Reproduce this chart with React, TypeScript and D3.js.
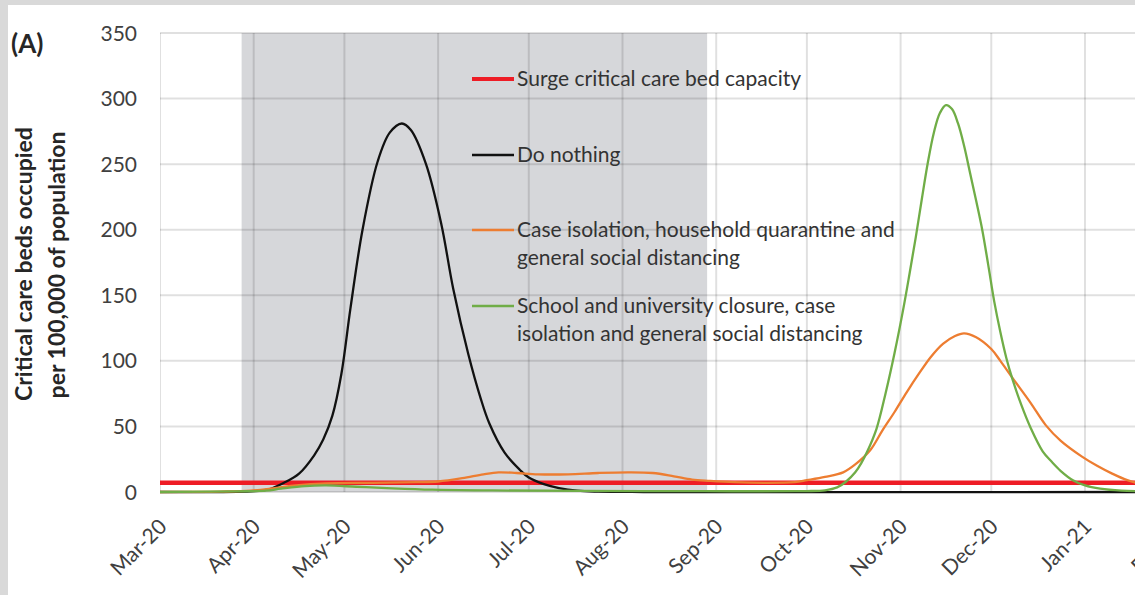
import * as d3 from "d3";

type Pt = [string, number];

// month gridlines / x tick labels
const MONTHS = [
  "2020-03-01", "2020-04-01", "2020-05-01", "2020-06-01", "2020-07-01", "2020-08-01",
  "2020-09-01", "2020-10-01", "2020-11-01", "2020-12-01", "2021-01-01", "2021-02-01",
];
const MONTH_LABELS = [
  "Mar-20", "Apr-20", "May-20", "Jun-20", "Jul-20", "Aug-20",
  "Sep-20", "Oct-20", "Nov-20", "Dec-20", "Jan-21", "Feb-21",
];
const Y_TICKS = [0, 50, 100, 150, 200, 250, 300, 350];

// grey band = suppression period
const SHADED = ["2020-03-28", "2020-08-29"];

const SURGE_CAPACITY = 7;

const DO_NOTHING: Pt[] = [
  ["2020-03-01", 0], ["2020-03-31", 0.5], ["2020-04-06", 2], ["2020-04-11", 7],
  ["2020-04-16", 14], ["2020-04-21", 28], ["2020-04-24", 40], ["2020-04-27", 58],
  ["2020-04-30", 90], ["2020-05-03", 140], ["2020-05-07", 200], ["2020-05-12", 252],
  ["2020-05-16", 274], ["2020-05-20", 281], ["2020-05-23", 276], ["2020-05-28", 250],
  ["2020-06-02", 205], ["2020-06-06", 155], ["2020-06-11", 105], ["2020-06-15", 72],
  ["2020-06-18", 52], ["2020-06-23", 30], ["2020-06-28", 17], ["2020-07-01", 11],
  ["2020-07-06", 6], ["2020-07-11", 3], ["2020-07-17", 1], ["2020-07-24", 0.3],
  ["2020-08-08", 0], ["2021-02-01", 0],
];

const CASE_ISOLATION: Pt[] = [
  ["2020-03-01", 0], ["2020-03-21", 0.3], ["2020-03-31", 1], ["2020-04-08", 3],
  ["2020-04-15", 5], ["2020-04-25", 6.5], ["2020-05-10", 7], ["2020-05-25", 7.5],
  ["2020-06-01", 8], ["2020-06-09", 10.5], ["2020-06-16", 13.5], ["2020-06-21", 15],
  ["2020-06-27", 14.5], ["2020-07-04", 13.5], ["2020-07-14", 13.5], ["2020-07-24", 14.5],
  ["2020-08-03", 15], ["2020-08-11", 14.5], ["2020-08-18", 12], ["2020-08-24", 9.5],
  ["2020-08-30", 8.5], ["2020-09-07", 7.5], ["2020-09-17", 7], ["2020-09-27", 7.5],
  ["2020-10-01", 9], ["2020-10-07", 11.5], ["2020-10-13", 15], ["2020-10-17", 21],
  ["2020-10-22", 32], ["2020-10-26", 47], ["2020-10-30", 61], ["2020-11-03", 76],
  ["2020-11-07", 90], ["2020-11-11", 103], ["2020-11-15", 113], ["2020-11-19", 119],
  ["2020-11-22", 121], ["2020-11-26", 118], ["2020-12-01", 109], ["2020-12-04", 100],
  ["2020-12-08", 87], ["2020-12-14", 68], ["2020-12-19", 51], ["2020-12-24", 39],
  ["2020-12-31", 27], ["2021-01-05", 20], ["2021-01-10", 14], ["2021-01-15", 9],
  ["2021-01-20", 6], ["2021-02-01", 3],
];

const SCHOOL_CLOSURE: Pt[] = [
  ["2020-03-01", 0], ["2020-03-26", 0.5], ["2020-04-05", 1], ["2020-04-10", 2.5],
  ["2020-04-18", 4.5], ["2020-04-25", 5], ["2020-05-05", 4], ["2020-05-15", 3],
  ["2020-05-30", 1.8], ["2020-06-19", 1.2], ["2020-07-19", 0.8], ["2020-08-28", 0.6],
  ["2020-09-27", 0.6], ["2020-10-01", 0.7], ["2020-10-07", 1.3], ["2020-10-11", 3.5],
  ["2020-10-14", 8], ["2020-10-17", 15], ["2020-10-19", 22], ["2020-10-21", 31],
  ["2020-10-24", 48], ["2020-10-27", 75], ["2020-10-30", 106], ["2020-11-02", 141],
  ["2020-11-04", 167], ["2020-11-06", 194], ["2020-11-08", 223], ["2020-11-10", 251],
  ["2020-11-12", 274], ["2020-11-14", 289], ["2020-11-16", 295], ["2020-11-18", 292],
  ["2020-11-20", 281], ["2020-11-22", 264], ["2020-11-24", 243], ["2020-11-26", 222],
  ["2020-11-28", 200], ["2020-11-30", 173], ["2020-12-02", 145], ["2020-12-04", 122],
  ["2020-12-06", 102], ["2020-12-08", 86], ["2020-12-11", 66], ["2020-12-14", 49],
  ["2020-12-18", 31], ["2020-12-21", 23], ["2020-12-24", 16], ["2020-12-28", 9],
  ["2021-01-01", 5], ["2021-01-06", 2.5], ["2021-01-13", 1], ["2021-02-01", 0.3],
];

const LEGEND_LABELS = [
  ["Surge critical care bed capacity"],
  ["Do nothing"],
  ["Case isolation, household quarantine and", "general social distancing"],
  ["School and university closure, case", "isolation and general social distancing"],
];

const W = 1135;
const H = 595;
const PLOT_L = 160;
const PLOT_T = 33;
const PLOT_B = 492;
const X_END = 1178.7; // Feb-21 falls just outside the cropped picture
const FONT = "Lato, 'Open Sans', sans-serif";

const RED = "#ee1c25";
const BLACK = "#111111";
const ORANGE = "#ed7d31";
const GREEN = "#70ad47";
const LEGEND_COLORS = [RED, BLACK, ORANGE, GREEN];
const LEGEND_Y = [79, 155, 230, 306];

const parse = d3.timeParse("%Y-%m-%d");

export default function App() {
  const x = d3
    .scaleTime()
    .domain([parse(MONTHS[0])!, parse(MONTHS[MONTHS.length - 1])!])
    .range([PLOT_L, X_END]);
  const y = d3.scaleLinear().domain([0, 350]).range([PLOT_B, PLOT_T]);

  const line = d3
    .line<Pt>()
    .x((d) => x(parse(d[0])!))
    .y((d) => y(d[1]))
    .curve(d3.curveCatmullRom.alpha(0.5));

  const surge: Pt[] = [
    [MONTHS[0], SURGE_CAPACITY],
    [MONTHS[MONTHS.length - 1], SURGE_CAPACITY],
  ];

  const gridStroke = "rgba(0,0,0,0.12)";

  return (
    <>
      <style>{`body{margin:0}`}</style>
      <svg width={W} height={H} style={{ display: "block" }} fontFamily={FONT}>
        <defs>
          <clipPath id="plot-clip">
            <rect x={PLOT_L} y={0} width={W - PLOT_L} height={PLOT_B + 10} />
          </clipPath>
        </defs>

        {/* outer grey frame + white panel */}
        <rect width={W} height={H} fill="#d9d9d9" />
        <rect x={8} y={5} width={W - 8} height={H - 5} fill="#ffffff" />

        {/* shaded period */}
        <rect
          x={x(parse(SHADED[0])!)}
          y={PLOT_T}
          width={x(parse(SHADED[1])!) - x(parse(SHADED[0])!)}
          height={PLOT_B - PLOT_T}
          fill="#d6d7da"
        />

        {/* gridlines */}
        <g clipPath="url(#plot-clip)">
          {Y_TICKS.map((t) => (
            <line key={t} x1={PLOT_L} x2={W} y1={y(t)} y2={y(t)} stroke={gridStroke} strokeWidth={2} />
          ))}
          {MONTHS.map((m) => (
            <line
              key={m}
              x1={x(parse(m)!)}
              x2={x(parse(m)!)}
              y1={PLOT_T}
              y2={PLOT_B}
              stroke={gridStroke}
              strokeWidth={2}
            />
          ))}
        </g>

        {/* series */}
        <g clipPath="url(#plot-clip)" fill="none" strokeLinejoin="round">
          <path d={line(surge) || ""} stroke={RED} strokeWidth={4.5} />
          <path d={line(DO_NOTHING) || ""} stroke={BLACK} strokeWidth={2.3} />
          <path d={line(CASE_ISOLATION) || ""} stroke={ORANGE} strokeWidth={2.3} />
          <path d={line(SCHOOL_CLOSURE) || ""} stroke={GREEN} strokeWidth={2.3} />
        </g>

        {/* y tick labels */}
        {Y_TICKS.map((t) => (
          <text key={t} x={137} y={y(t)} dy="0.36em" textAnchor="end" fontSize={21} fill="#404040">
            {t}
          </text>
        ))}

        {/* x tick labels */}
        {MONTHS.map((m, i) => (
          <text
            key={m}
            transform={`translate(${x(parse(m)!) + 8},528) rotate(-45)`}
            textAnchor="end"
            fontSize={21}
            fill="#404040"
          >
            {MONTH_LABELS[i]}
          </text>
        ))}

        {/* y axis title */}
        <g fontWeight="bold" fontSize={23} fill="#262626" textAnchor="middle">
          <text transform="translate(32,264) rotate(-90)">Critical care beds occupied</text>
          <text transform="translate(65,265) rotate(-90)">per 100,000 of population</text>
        </g>

        <text x={11} y={53} fontSize={26} fontWeight="bold" fill="#262626">
          (A)
        </text>

        {/* legend */}
        {LEGEND_LABELS.map((lines, i) => (
          <g key={i}>
            <line
              x1={472}
              x2={514}
              y1={LEGEND_Y[i]}
              y2={LEGEND_Y[i]}
              stroke={LEGEND_COLORS[i]}
              strokeWidth={i === 0 ? 4 : 2.5}
            />
            {lines.map((s, j) => (
              <text key={j} x={517} y={LEGEND_Y[i] + 7 + j * 28} fontSize={21} fill="#333333">
                {s}
              </text>
            ))}
          </g>
        ))}
      </svg>
    </>
  );
}
